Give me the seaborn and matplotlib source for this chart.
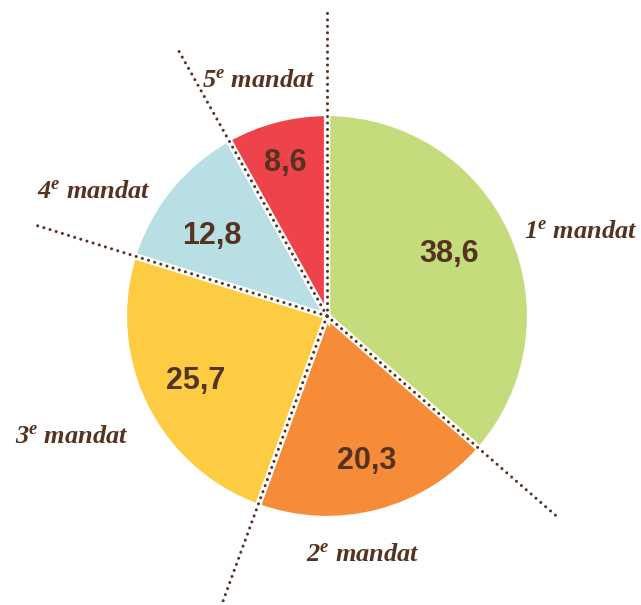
import numpy as np
import matplotlib
matplotlib.use('Agg')
import matplotlib.pyplot as plt
import seaborn as sns

sns.set_theme(style='white')
plt.rcParams['font.family'] = ['Liberation Sans', 'DejaVu Sans']
plt.rcParams['mathtext.fontset'] = 'custom'
plt.rcParams['mathtext.rm'] = 'Liberation Serif:italic:bold'
plt.rcParams['mathtext.it'] = 'Liberation Serif:italic:bold'

labels = ['1', '2', '3', '4', '5']
values = [38.6, 20.3, 25.7, 12.8, 8.6]
colors = ['#C5DC7C', '#F68B38', '#FDCC42', '#B8E0E4', '#EE434B']
brown = '#553321'

fig = plt.figure(figsize=(6.41, 6.05), dpi=100)
ax = fig.add_axes([0, 0, 1, 1])

wedges, _ = ax.pie(values, colors=colors, startangle=90, counterclock=False,
                   radius=1.0, wedgeprops=dict(edgecolor='white', linewidth=4.5))

# pie centre at pixel (327, 316), radius 203 px
cx, cy, s = 327, 316, 203
ax.set_xlim(-cx / s, (641 - cx) / s)
ax.set_ylim(-(605 - cy) / s, cy / s)
ax.set_aspect('equal')
ax.axis('off')

# dotted boundary lines through the centre
for w in wedges:
    a = np.deg2rad(w.theta2)
    ax.plot([0, 1.5 * np.cos(a)], [0, 1.5 * np.sin(a)], color=brown,
            linestyle=(0, (0.01, 2.1)), linewidth=2.2, zorder=3,
            dash_capstyle='round')

# value labels and slice names
val_r = [0.675, 0.74, 0.72, 0.69, 0.78]
val_da = [2.5, 1, 0, 4, 0.5]
name_r = [1.32, 1.19, 1.39, 1.30, 1.21]
name_da = [-6, -6, -1, 11, 1.5]
for i, w in enumerate(wedges):
    mid = (w.theta1 + w.theta2) / 2
    m1 = np.deg2rad(mid + val_da[i])
    ax.text(val_r[i] * np.cos(m1), val_r[i] * np.sin(m1),
            ('%.1f' % values[i]).replace('.', ','),
            ha='center', va='center', fontsize=22, fontweight='bold',
            color=brown, zorder=4)
    m2 = np.deg2rad(mid + name_da[i])
    ax.text(name_r[i] * np.cos(m2), name_r[i] * np.sin(m2),
            labels[i] + r'$^{\mathrm{e}}$ mandat',
            ha='center', va='center', fontsize=19, fontstyle='italic',
            fontweight='bold', family='Liberation Serif', color=brown)

plt.savefig('out.png', dpi=100)
